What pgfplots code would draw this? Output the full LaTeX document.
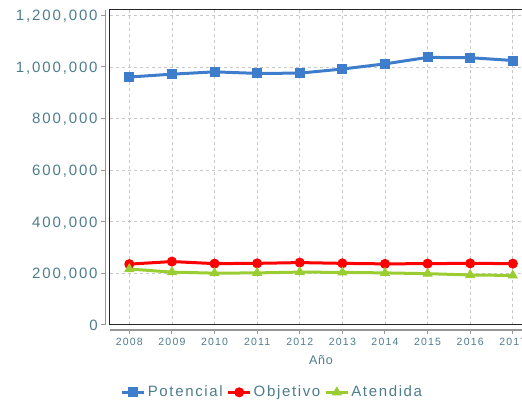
\documentclass[border=0pt]{standalone}
\usepackage{pgfplots}
\pgfplotsset{compat=1.18}
\usepackage{fontspec}
\setmainfont{Liberation Sans}
\newfontfamily\ytfont{Liberation Sans}[LetterSpace=12.5]
\newfontfamily\xtfont{Liberation Sans}[LetterSpace=11.5]
\newfontfamily\lgfont{Liberation Sans}[LetterSpace=11]
\newfontfamily\xlfont{Liberation Sans}[LetterSpace=6]
\definecolor{labc}{RGB}{77,125,140}
\definecolor{cpot}{RGB}{61,125,204}
\definecolor{cobj}{RGB}{255,0,0}
\definecolor{cate}{RGB}{154,205,50}
\definecolor{gridc}{RGB}{200,200,200}
\definecolor{axgray}{RGB}{150,150,150}
\begin{document}
\begin{tikzpicture}
\clip (0pt,0pt) rectangle (522pt,402pt);
\begin{axis}[
  at={(110pt,77.3pt)}, anchor=south west,
  scale only axis, width=422pt, height=314.7pt,
  xmin=2007.547, xmax=2017.45, ymin=0, ymax=1221000,
  clip=false,
  scaled y ticks=false, scaled x ticks=false,
  xtick={2008,2009,2010,2011,2012,2013,2014,2015,2016,2017},
  ytick={0,200000,400000,600000,800000,1000000,1200000},
  xticklabel={\pgfmathprintnumber[assume math mode=true, fixed, precision=0, 1000 sep={}]{\tick}},
  yticklabel={\pgfmathprintnumber[assume math mode=true, fixed, precision=0, 1000 sep={,}]{\tick}},
  major tick length=0pt,
  grid=major,
  grid style={gridc, dash pattern=on 3pt off 3pt, line width=0.8pt},
  axis line style={black!85, line width=1pt},
  xticklabel style={font=\xtfont\fontsize{10.5}{12}\selectfont, text=labc, anchor=base, inner sep=0pt, yshift=-21pt},
  yticklabel style={font=\ytfont\fontsize{15}{18}\selectfont, text=labc, anchor=base east, inner sep=0pt, xshift=-12.2pt, yshift=-5.4pt},
  xlabel={Año},
  xlabel style={at={(axis description cs:0.5,-0.1258)}, anchor=base, inner sep=0pt, font=\xlfont\fontsize{12.5}{15}\selectfont, text=labc},
  legend columns=3,
  legend style={draw=none, fill=none, at={(axis description cs:0.385,-0.2148)}, anchor=center,
    font=\lgfont\fontsize{15}{18}\selectfont, text=labc,
    /tikz/every even column/.append style={column sep=2pt}},
  legend image code/.code={\draw[#1, mark repeat=2, mark phase=2] plot coordinates {(0pt,0pt) (11pt,0pt) (22pt,0pt)};},
]
\addplot[cpot, line width=3pt, mark=square*, mark size=4.5pt, mark options={solid, line width=1pt}] coordinates {
(2008,961000) (2009,972000) (2010,981000) (2011,975000) (2012,976000)
(2013,992000) (2014,1012000) (2015,1037000) (2016,1036000) (2017,1025000)};
\addlegendentry{Potencial}
\addplot[cobj, line width=3pt, mark=*, mark size=4.5pt, mark options={solid, line width=1pt}] coordinates {
(2008,235000) (2009,245000) (2010,237000) (2011,238000) (2012,241000)
(2013,238000) (2014,236000) (2015,237000) (2016,238000) (2017,237000)};
\addlegendentry{Objetivo}
\addplot[cate, line width=3pt, mark=triangle*, mark size=5pt, mark options={solid, line width=1pt}] coordinates {
(2008,216000) (2009,204000) (2010,200000) (2011,201000) (2012,204000)
(2013,203000) (2014,201000) (2015,198000) (2016,193000) (2017,191000)};
\addlegendentry{Atendida}
% offset axis lines and ticks
\draw[axgray, line width=1.5pt] ([xshift=-4.7pt]rel axis cs:0,1) -- ([xshift=-4.7pt]rel axis cs:0,0);
\draw[axgray, line width=1.5pt] ([yshift=-5.3pt]rel axis cs:0,0) -- ([yshift=-5.3pt]rel axis cs:1,0);
\pgfplotsinvokeforeach{2008,2009,2010,2011,2012,2013,2014,2015,2016,2017}{
  \draw[axgray, line width=1pt] ([yshift=-5.3pt]axis cs:#1,0) -- ([yshift=-9.3pt]axis cs:#1,0);}
\pgfplotsinvokeforeach{0,200000,400000,600000,800000,1000000,1200000}{
  \draw[axgray, line width=1pt] ([xshift=-5.3pt]axis cs:2007.547,#1) -- ([xshift=-9.3pt]axis cs:2007.547,#1);}
\end{axis}
\end{tikzpicture}
\end{document}
